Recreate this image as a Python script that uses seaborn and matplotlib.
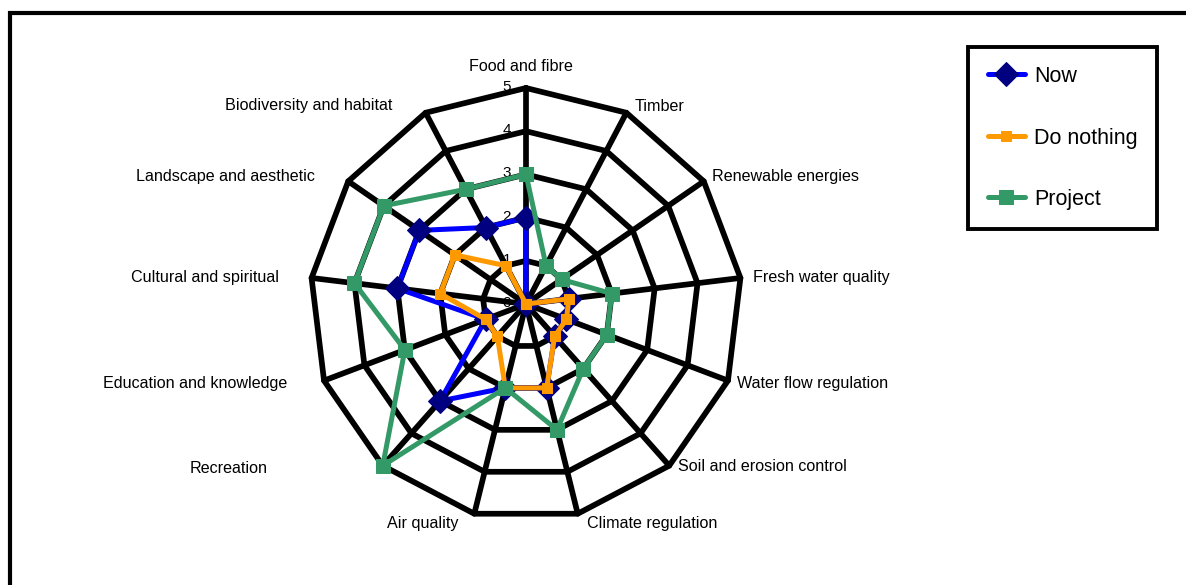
import matplotlib
matplotlib.use('Agg')

import numpy as np
import pandas as pd
import matplotlib.pyplot as plt
import seaborn as sns
from matplotlib.patches import Rectangle

# categories, clockwise from the top
categories = ['Food and fibre', 'Timber', 'Renewable energies', 'Fresh water quality',
              'Water flow regulation', 'Soil and erosion control', 'Climate regulation',
              'Air quality', 'Recreation', 'Education and knowledge', 'Cultural and spiritual',
              'Landscape and aesthetic', 'Biodiversity and habitat']
now = [2, 0, 0, 1, 1, 1, 2, 2, 3, 1, 3, 3, 2]
do_nothing = [0, 0, 0, 1, 1, 1, 2, 2, 1, 1, 2, 2, 1]
project = [3, 1, 1, 2, 2, 2, 3, 2, 5, 3, 4, 4, 3]
rings = [1, 2, 3, 4, 5]
ring_labels = ['0', '1', '2', '3', '4', '5']

sns.set_style('white')
plt.rcParams['font.family'] = ['Liberation Sans', 'DejaVu Sans']
plt.rcParams['text.color'] = 'black'

n = len(categories)
theta = np.linspace(0, 2 * np.pi, n, endpoint=False)
theta_closed = np.append(theta, 2 * np.pi)

fig = plt.figure(figsize=(11.86, 5.85), dpi=100)
ax = fig.add_axes([0.26138, 0.1111, 0.36425, 0.73846], projection='polar')
ax.set_theta_zero_location('N')
ax.set_theta_direction(-1)
ax.set_ylim(0, 5)
ax.grid(False)
ax.spines['polar'].set_visible(False)
ax.set_xticks([])
ax.set_yticks([])
ax.patch.set_alpha(0)

# polygon web
for r in rings:
    ax.plot(theta_closed, [r] * (n + 1), color='black', lw=4.1, clip_on=False,
            solid_joinstyle='miter', zorder=1)
for t in theta:
    ax.plot([t, t], [0, 5], color='black', lw=4.1, clip_on=False, zorder=1)

# series
series = [
    ('Now', now, '#0000FF', 'D', 12.5, '#000080'),
    ('Do nothing', do_nothing, '#FF9900', 's', 7.5, '#FF9900'),
    ('Project', project, '#339966', 's', 10, '#339966'),
]
for i, (name, vals, col, mk, ms, mcol) in enumerate(series):
    df = pd.DataFrame({'theta': theta_closed, 'value': list(vals) + [vals[0]]})
    sns.lineplot(data=df, x='theta', y='value', sort=False, estimator=None, ax=ax,
                 color=col, lw=3.6, marker=mk, markersize=ms, markerfacecolor=mcol,
                 markeredgecolor=mcol, label=name, legend=False, clip_on=False,
                 zorder=3 + i)
ax.set_xlabel('')
ax.set_ylabel('')

# category labels
label_offsets = [(-5.5, 21.5, 'center'), (8.6, 6.7, 'left'), (8, 5, 'left'), (12.6, 0, 'left'),
                 (9, -2.5, 'left'), (9, -1, 'left'), (9, -10, 'left'), (-16, -10, 'right'),
                 (-115, -3, 'right'), (-37, -2.5, 'right'), (-32.6, 0, 'right'),
                 (-33, 5, 'right'), (-33.6, 7.7, 'right')]
for t, lab, (dx, dy, ha) in zip(theta, categories, label_offsets):
    ax.annotate(lab, xy=(t, 5), xytext=(dx, dy), textcoords='offset pixels',
                ha=ha, va='center', fontsize=11.6, color='black', annotation_clip=False)

# radial tick labels
for r, lab in enumerate(ring_labels):
    ax.annotate(lab, xy=(0, r), xytext=(-19, 1), textcoords='offset pixels',
                ha='center', va='center', fontsize=11, color='black', zorder=2,
                annotation_clip=False)

handles, labels = ax.get_legend_handles_labels()
leg = fig.legend(handles, labels, loc='center', bbox_to_anchor=(1062.5 / 1186, 1 - 138 / 585),
                 borderaxespad=0, fontsize=15.5, frameon=True, fancybox=False, framealpha=1,
                 handlelength=1.75, handletextpad=0.4, labelspacing=1.88, borderpad=0.9)
leg.get_frame().set_edgecolor('black')
leg.get_frame().set_linewidth(2.8)
for txt in leg.get_texts():
    txt.set_color('black')

# outer chart border
fig.add_artist(Rectangle((10 / 1186, -0.05), 1.1, 1.05 - 13 / 585, transform=fig.transFigure,
                         fill=False, lw=3, edgecolor='black', clip_on=False))

fig.savefig('out.png', dpi=100)
